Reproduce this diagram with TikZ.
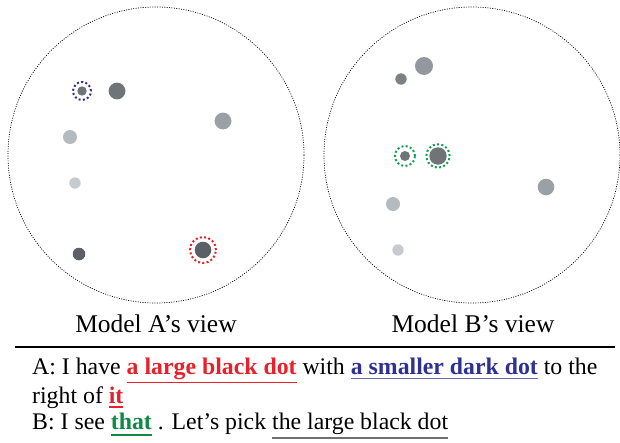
\documentclass[tikz,border=0pt]{standalone}
\usepackage{fontspec}
\setmainfont{Liberation Serif}
\definecolor{tred}{HTML}{E8202A}
\definecolor{tblue}{HTML}{2E3192}
\definecolor{ulblue}{HTML}{6B6BB8}
\definecolor{tgreen}{HTML}{0E8A45}
\definecolor{ringgreen}{HTML}{10A050}
\definecolor{ulgray}{HTML}{707070}
\definecolor{gA}{HTML}{6F7477}
\definecolor{gB}{HTML}{9AA0A5}
\definecolor{gC}{HTML}{B4BAC0}
\definecolor{gD}{HTML}{C7CBD0}
\definecolor{gE}{HTML}{5B6064}
\definecolor{gF}{HTML}{92989D}
\definecolor{gG}{HTML}{7C8186}
\newcommand\myul[4]{\leavevmode\setbox0\hbox{#4}\rlap{\color{#1}\rule[#3]{\wd0}{#2}}\box0\relax}
\begin{document}
\begin{tikzpicture}[x=1pt,y=-1pt,
  view/.style={circle, draw=black, line width=0.7pt, dash pattern=on 1pt off 1.4pt, inner sep=0pt, minimum size=296pt},
  dot/.style={circle, inner sep=0pt, draw=none, minimum size=#1},
  ring/.style={line width=2pt, dash pattern=on 2pt off 2.3pt},
  lab/.style={anchor=base, inner sep=0pt, font=\fontsize{25.5pt}{30pt}\selectfont},
  txt/.style={anchor=base west, inner sep=0pt, font=\fontsize{23.8pt}{28pt}\selectfont}]
\useasboundingbox (0,0) rectangle (620,442);
% views
\node[view] (viewA) at (156,155) {};
\node[view] (viewB) at (472,155) {};
% Model A dots
\node[dot=9.4pt, fill=gA] (a1) at (82,91) {};
\node[dot=16.8pt, fill=gA] (a2) at (117,91) {};
\node[dot=16.8pt, fill=gB] (a3) at (223,121) {};
\node[dot=14pt, fill=gC] (a4) at (70,137) {};
\node[dot=11.4pt, fill=gD] (a5) at (75,183) {};
\node[dot=12.6pt, fill=gE] (a6) at (79,254) {};
\node[dot=16.6pt, fill=gE] (a7) at (203,250) {};
\draw[ring, tblue] (a1) circle[radius=9pt];
\draw[ring, tred] (a7) circle[radius=13pt];
% Model B dots
\node[dot=18pt, fill=gF] (b1) at (424,66) {};
\node[dot=11.4pt, fill=gG] (b2) at (401,79) {};
\node[dot=10pt, fill=gA] (b3) at (405,156) {};
\node[dot=17.4pt, fill=gA] (b4) at (438,156) {};
\node[dot=16.6pt, fill=gB] (b5) at (546,187) {};
\node[dot=14pt, fill=gC] (b6) at (393,204) {};
\node[dot=11.4pt, fill=gD] (b7) at (398,250) {};
\draw[ring, ringgreen] (b3) circle[radius=10pt];
\draw[ring, ringgreen] (b4) circle[radius=11.7pt];
% labels
\node[lab] (labA) at (156,332) {Model A’s view};
\node[lab] (labB) at (473,332) {Model B’s view};
% rule
\coordinate (r1) at (15,347);
\coordinate (r2) at (615,347);
\draw[line width=1.8pt] (r1) -- (r2);
% dialogue
\node[txt] (t1) at (32,374) {A: I have \myul{tred}{1.3pt}{-9pt}{\textbf{\color{tred}a large black dot}} with \myul{ulblue}{1.5pt}{-5.2pt}{\textbf{\color{tblue}a smaller dark dot}} to the};
\node[txt] (t2) at (32,403) {right of \myul{tred}{1.5pt}{-4.7pt}{\textbf{\color{tred}it}}};
\node[txt] (t3) at (32,429) {B: I see \myul{tgreen}{1.5pt}{-6.5pt}{\textbf{\color{tgreen}that}} . Let’s pick \myul{ulgray}{2.5pt}{-10.3pt}{the large black dot}};
\end{tikzpicture}
\end{document}
